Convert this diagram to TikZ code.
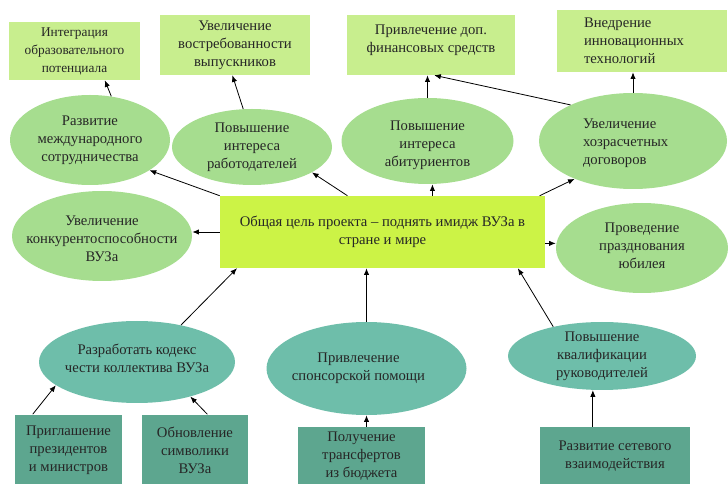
\documentclass[tikz,border=0pt]{standalone}
\usepackage{fontspec}
\setmainfont{Liberation Serif}
\usetikzlibrary{shapes.geometric,arrows.meta}
\definecolor{topgreen}{HTML}{C8EE8E}
\definecolor{ellgreen}{HTML}{A6DD8F}
\definecolor{goalgreen}{HTML}{CCF346}
\definecolor{tealell}{HTML}{6EBEAA}
\definecolor{tealbox}{HTML}{5DA68F}
\definecolor{ink}{HTML}{262626}

\begin{document}
\begin{tikzpicture}[x=0.75pt,y=-0.75pt,
  txt/.style={font=\fontsize{11}{13.5}\selectfont,align=center,text=ink},
  small/.style={font=\fontsize{10}{13.5}\selectfont},
  box/.style={rectangle,inner sep=0pt,txt},
  ell/.style={ellipse,inner sep=0pt},
  arr/.style={line width=0.6pt,-{Latex[length=5pt,width=4pt]}}]
\useasboundingbox (0,0) rectangle (728,484);
\node [box,small,fill=topgreen,minimum width=98.25pt,minimum height=43.5pt] (integr) at (74.5,51) {Интеграция\\образовательного\\потенциала};
\node [box,fill=topgreen,minimum width=112.5pt,minimum height=45pt] (demand) at (235,45) {Увеличение\\востребованности\\выпускников};
\node [box,fill=topgreen,minimum width=126pt,minimum height=45pt,text depth=10pt] (funds) at (431,45) {Привлечение доп.\\финансовых средств};
\node [box,fill=topgreen,minimum width=127.5pt,minimum height=46.5pt,text width=87pt,align=left] (innov) at (642,41) {Внедрение\\инновационных\\технологий};

\node [ell,fill=ellgreen,minimum width=120pt,minimum height=67.5pt,label={[txt]center:{Развитие\\международного\\сотрудничества}}] (intl) at (90,140) {};
\node [ell,fill=ellgreen,minimum width=120pt,minimum height=57pt,label={[txt]center:{Повышение\\интереса\\работодателей}}] (employ) at (252,147) {};
\node [ell,fill=ellgreen,minimum width=129pt,minimum height=64.5pt,label={[txt,yshift=-3pt]center:{Повышение\\интереса\\абитуриентов}}] (applic) at (427.5,141) {};
\node [ell,fill=ellgreen,minimum width=141pt,minimum height=72pt,label={[txt,yshift=-2pt,text width=75pt,align=left]center:{Увеличение\\хозрасчетных\\договоров}}] (contract) at (633,141) {};
\node [ell,fill=ellgreen,minimum width=135pt,minimum height=67.5pt,label={[txt,yshift=-2pt]center:{Увеличение\\конкурентоспособности\\ВУЗа}}] (compet) at (102,236) {};
\node [ell,fill=ellgreen,minimum width=129pt,minimum height=67.5pt,label={[txt,yshift=1.5pt]center:{Проведение\\празднования\\юбилея}}] (jubilee) at (642,248) {};

\node [box,fill=goalgreen,minimum width=243.75pt,minimum height=54pt] (goal) at (382.5,232) {Общая цель проекта – поднять имидж ВУЗа в\\стране и мире};

\node [ell,fill=tealell,minimum width=147pt,minimum height=61.5pt,label={[txt,yshift=3pt]center:{Разработать кодекс\\чести коллектива ВУЗа}}] (honor) at (137,362) {};
\node [ell,fill=tealell,minimum width=150pt,minimum height=69.75pt,label={[txt,xshift=-6pt]center:{Привлечение\\спонсорской помощи}}] (sponsor) at (366.5,368.5) {};
\node [ell,fill=tealell,minimum width=141pt,minimum height=51pt,label={[txt]center:{Повышение\\квалификации\\руководителей}}] (qualif) at (602,356) {};

\node [box,fill=tealbox,minimum width=80.25pt,minimum height=53.25pt] (invite) at (68.5,450) {Приглашение\\президентов\\и министров};
\node [box,fill=tealbox,minimum width=79.5pt,minimum height=53.25pt] (symbol) at (195,450) {Обновление\\символики\\ВУЗа};
\node [box,fill=tealbox,minimum width=95.25pt,minimum height=44.25pt] (budget) at (361.5,456.5) {Получение\\трансфертов\\из бюджета};
\node [box,fill=tealbox,minimum width=112.5pt,minimum height=44.25pt] (network) at (615,456.5) {Развитие сетевого\\взаимодействия};

\draw [arr] (goal.north west) -- (intl.-27);
\draw [arr] (goal.134.6) -- (employ.-23);
\draw [arr] (goal.36) -- (goal.36 |- applic.south);
\draw [arr] (goal.13.4) -- (contract.-147);
\draw [arr] (goal.west) -- (goal.west -| compet.east);
\draw [arr] (goal.-4) -- (goal.-4 -| jubilee.west);
\draw [arr] (intl.64) -- (integr.-44);
\draw [arr] (employ.103) -- (demand.-95);
\draw [arr] (applic.north) -- (applic.north |- funds.south);
\draw [arr] (contract.150) -- (funds.-84);
\draw [arr] (contract.north) -- (contract.north |- innov.south);
\draw [arr] (honor.40) -- (goal.194.5);
\draw [arr] (sponsor.north) -- (sponsor.north |- goal.south);
\draw [arr] (qualif.149.5) -- (goal.-15);
\draw [arr] (invite.135) -- (honor.196);
\draw [arr] (symbol.71) -- (honor.-33);
\draw [arr] (budget.north -| sponsor.south) -- (sponsor.south);
\draw [arr] (network.north -| qualif.-105) -- (qualif.-105);
\end{tikzpicture}
\end{document}
